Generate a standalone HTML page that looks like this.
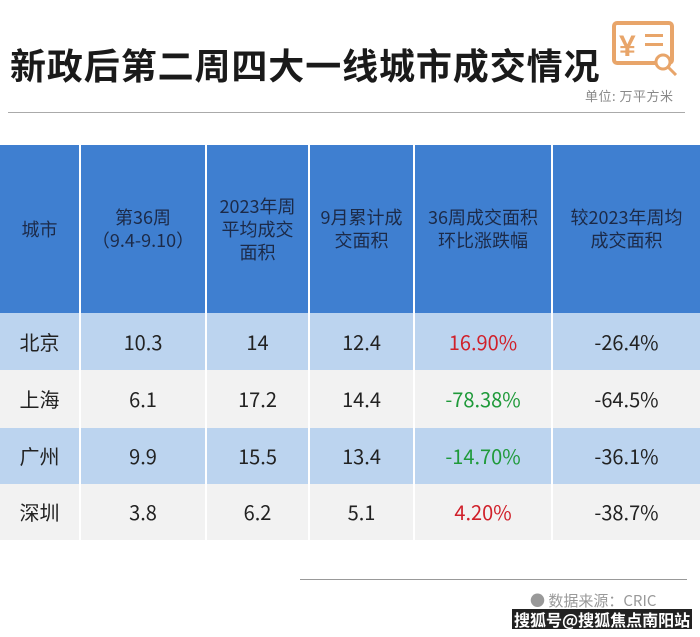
<!DOCTYPE html>
<html><head><meta charset="utf-8"><style>
body{margin:0;width:700px;height:637px;background:#fff;position:relative;overflow:hidden;font-family:"Noto Sans CJK SC","Liberation Sans",sans-serif;}
.t{position:absolute;left:10px;top:45px;font-size:36px;line-height:38px;font-weight:bold;color:#1a1a1a;font-family:"Noto Sans CJK SC",sans-serif;white-space:nowrap;letter-spacing:0.9px}
.u{position:absolute;left:585px;top:88px;font-size:13px;line-height:15px;color:#888;white-space:nowrap;letter-spacing:0.5px}
.hr{position:absolute;height:1px;background:#aaa}
table{position:absolute;left:0;top:145px;width:700px;border-collapse:collapse;table-layout:fixed}
td{text-align:center;vertical-align:middle;border-left:2px solid #fff;padding:0;font-size:20px;line-height:24px;color:#222}
td:first-child{border-left:none}
.h td{background:#3f7fd0;height:168px;color:#1c2a48;font-size:18px;line-height:23px}
.b td{background:#bcd4ef}
.w td{background:#f2f2f2}
.r{color:#d0202a}.g{color:#1f9a3a}
</style></head><body>
<div class="t">新政后第二周四大一线城市成交情况</div>
<svg style="position:absolute;left:611px;top:20px" width="70" height="56" viewBox="0 0 70 56">
<rect x="3" y="3" width="58" height="40" rx="3" fill="none" stroke="#e8a56a" stroke-width="4"/>
<text x="8" y="36" font-size="30" font-weight="bold" fill="#e8a56a" font-family="Liberation Sans">¥</text>
<rect x="34" y="14" width="18" height="3" fill="#e8a56a"/><rect x="34" y="23" width="18" height="3" fill="#e8a56a"/>
<circle cx="52" cy="42" r="7" fill="#fff" stroke="#e8a56a" stroke-width="3"/><line x1="57" y1="47" x2="65" y2="55" stroke="#e8a56a" stroke-width="3"/>
</svg>
<div class="u">单位: 万平方米</div>
<div class="hr" style="top:112px;left:8px;width:677px"></div>
<table>
<colgroup><col style="width:80px"><col style="width:126px"><col style="width:103px"><col style="width:105px"><col style="width:138px"><col style="width:148px"></colgroup>
<tr class="h"><td>城市</td><td>第36周<br>（9.4-9.10）</td><td>2023年周<br>平均成交<br>面积</td><td>9月累计成<br>交面积</td><td>36周成交面积<br>环比涨跌幅</td><td>较2023年周均<br>成交面积</td></tr>
<tr class="b" style="height:57px"><td>北京</td><td>10.3</td><td>14</td><td>12.4</td><td class="r">16.90%</td><td>-26.4%</td></tr>
<tr class="w" style="height:58px"><td>上海</td><td>6.1</td><td>17.2</td><td>14.4</td><td class="g">-78.38%</td><td>-64.5%</td></tr>
<tr class="b" style="height:56px"><td>广州</td><td>9.9</td><td>15.5</td><td>13.4</td><td class="g">-14.70%</td><td>-36.1%</td></tr>
<tr class="w" style="height:56px"><td>深圳</td><td>3.8</td><td>6.2</td><td>5.1</td><td class="r">4.20%</td><td>-38.7%</td></tr>
</table>
<div class="hr" style="top:579px;width:387px;left:300px;background:#999"></div>
<div style="position:absolute;left:530px;top:592px;font-size:15px;line-height:18px;color:#999;white-space:nowrap">● 数据来源：CRIC</div>
<div style="position:absolute;left:512px;top:609px;font-size:16px;font-weight:bold;color:#fff;background:#222;padding:0 2px;line-height:20px;white-space:nowrap;font-family:'Noto Sans CJK SC',sans-serif">搜狐号@搜狐焦点南阳站</div>
</body></html>
